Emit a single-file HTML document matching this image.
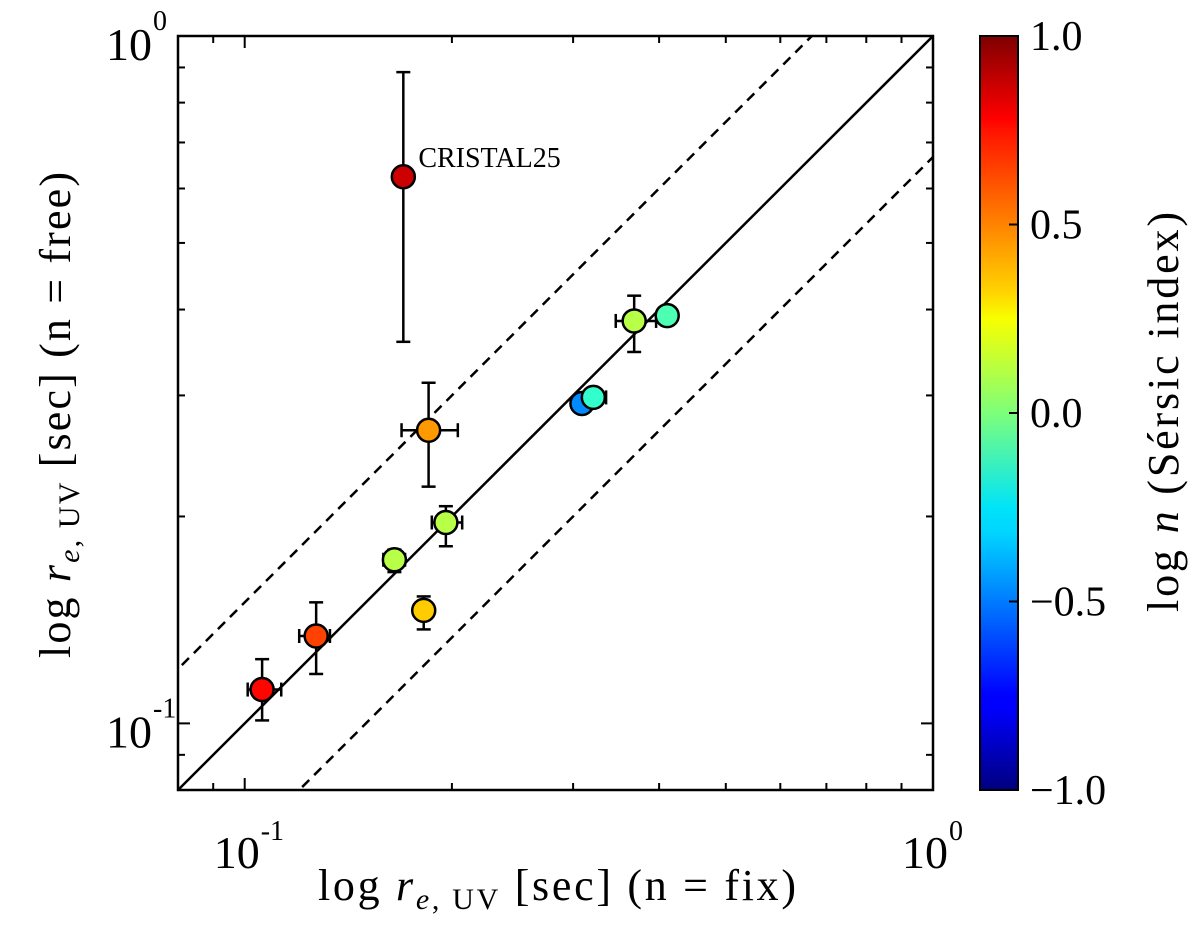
<!DOCTYPE html>
<html><head><meta charset="utf-8"><style>
html,body{margin:0;padding:0;background:#fff;width:1200px;height:936px;overflow:hidden}
svg{display:block}
svg text{font-family:"Liberation Serif",serif;fill:#000}
</style></head><body>
<svg id="chart" width="1200" height="936" viewBox="0 0 1200 936" xmlns="http://www.w3.org/2000/svg">
<defs>
<linearGradient id="jet" x1="0" y1="1" x2="0" y2="0">
<stop offset="0" stop-color="#00007f"/><stop offset="0.11" stop-color="#0000ff"/><stop offset="0.125" stop-color="#0000ff"/>
<stop offset="0.34" stop-color="#00d4ff"/><stop offset="0.375" stop-color="#00e4f8"/><stop offset="0.5" stop-color="#7dff7a"/>
<stop offset="0.625" stop-color="#f8ff00"/><stop offset="0.66" stop-color="#ffd400"/><stop offset="0.875" stop-color="#ff1300"/>
<stop offset="0.89" stop-color="#ff0000"/><stop offset="1" stop-color="#7f0000"/>
</linearGradient>
<clipPath id="plotclip"><rect x="178" y="36" width="755" height="754"/></clipPath>
</defs>
<g id="plot"></g>
</svg>
<script>
const xFix = [0.106, 0.127, 0.165, 0.182, 0.196, 0.185, 0.170, 0.309, 0.321, 0.368, 0.411];
const yFree = [0.112, 0.134, 0.173, 0.146, 0.196, 0.267, 0.624, 0.292, 0.298, 0.385, 0.392];
const logN = [0.74, 0.62, 0.11, 0.35, 0.11, 0.45, 0.85, -0.48, -0.15, 0.11, -0.1];
const xLo = [0.101, 0.120, 0.159, null, 0.187, 0.169, null, null, 0.312, 0.346, null];
const xHi = [0.113, 0.133, 0.171, null, 0.207, 0.204, null, null, 0.335, 0.396, null];
const yLo = [0.101, 0.118, 0.166, 0.137, 0.181, 0.221, 0.359, null, null, 0.347, null];
const yHi = [0.124, 0.150, 0.179, 0.153, 0.207, 0.313, 0.886, null, null, 0.419, null];
const labelNames = ["", "", "", "", "", "", "CRISTAL25", "", "", "", ""];
const xTickVals = [0.1, 1];
const xTickLabels = ["10", "10"];
const xTickExps = ["-1", "0"];
const cbTicks = [-1.0, -0.5, 0.0, 0.5, 1.0];
const cbLabels = ["\u22121.0", "\u22120.5", "0.0", "0.5", "1.0"];
const ratioLines = [1, 1.5, 1/1.5];

const NS = "http://www.w3.org/2000/svg";
const L = 178, R = 933, T = 36, B = 790, LMIN = Math.log10(0.08), LMAX = 0;
function sx(v){return L + (Math.log10(v) - LMIN) / (LMAX - LMIN) * (R - L);}
function sy(v){return B - (Math.log10(v) - LMIN) / (LMAX - LMIN) * (B - T);}
const CT = 36, CB = 790, CL = 980, CR = 1018;
function cy(v){return CB - (v + 1) / 2 * (CB - CT);}
function jet(v){
  const t = (v + 1) / 2;
  const c = x => Math.max(0, Math.min(1, x));
  const r = c(1.5 - Math.abs(4*t - 3)), g = c(1.5 - Math.abs(4*t - 2)), b = c(1.5 - Math.abs(4*t - 1));
  return `rgb(${Math.round(r*255)},${Math.round(g*255)},${Math.round(b*255)})`;
}
const root = document.getElementById('plot');
function mk(tag, attrs, parent){
  const e = document.createElementNS(NS, tag);
  for (const k in attrs) e.setAttribute(k, attrs[k]);
  (parent || root).appendChild(e);
  return e;
}
const clipG = mk('g', {'clip-path': 'url(#plotclip)'});


ratioLines.forEach((f) => {
  const ln = mk('line', {x1: sx(0.05), y1: sy(0.05*f), x2: sx(1.2), y2: sy(1.2*f), stroke: '#000', 'stroke-width': 2.5, 'stroke-dasharray': f === 1 ? '' : '10,7'}, clipG);
  
  
});
for (let i = 0; i < xFix.length; i++){
  const g = mk('g', {});
  
  
  const px = sx(xFix[i]), py = sy(yFree[i]);
  if (yLo[i] !== null){
    mk('line', {x1: px, x2: px, y1: sy(yLo[i]), y2: sy(yHi[i]), stroke: '#000', 'stroke-width': 2.5}, g);
    mk('line', {x1: px-7, x2: px+7, y1: sy(yLo[i]), y2: sy(yLo[i]), stroke: '#000', 'stroke-width': 2.5}, g);
    mk('line', {x1: px-7, x2: px+7, y1: sy(yHi[i]), y2: sy(yHi[i]), stroke: '#000', 'stroke-width': 2.5}, g);
  }
  if (xLo[i] !== null){
    mk('line', {x1: sx(xLo[i]), x2: sx(xHi[i]), y1: py, y2: py, stroke: '#000', 'stroke-width': 2.5}, g);
    mk('line', {x1: sx(xLo[i]), x2: sx(xLo[i]), y1: py-7, y2: py+7, stroke: '#000', 'stroke-width': 2.5}, g);
    mk('line', {x1: sx(xHi[i]), x2: sx(xHi[i]), y1: py-7, y2: py+7, stroke: '#000', 'stroke-width': 2.5}, g);
  }
  mk('circle', {cx: px, cy: py, r: 11.5, fill: jet(logN[i]), stroke: '#000', 'stroke-width': 2.5}, g);
  if (labelNames[i]){
    const t = mk('text', {x: px + 15, y: py - 10, 'font-size': 28}, g);
    t.textContent = labelNames[i];
    
    
  }
}
const fr = mk('rect', {x: L, y: T, width: R-L, height: B-T, fill: 'none', stroke: '#000', 'stroke-width': 2.5});


const tg = mk('g', {stroke: '#000', 'stroke-width': 2});


const minorVals = [0.08, 0.09, 0.1, 0.2, 0.3, 0.4, 0.5, 0.6, 0.7, 0.8, 0.9, 1];
minorVals.forEach(v => {
  const major = (v === 0.1 || v === 1);
  const len = major ? 12 : 7;
  mk('line', {x1: sx(v), x2: sx(v), y1: B, y2: B - len}, tg);
  mk('line', {x1: sx(v), x2: sx(v), y1: T, y2: T + len}, tg);
  mk('line', {x1: L, x2: L + len, y1: sy(v), y2: sy(v)}, tg);
  mk('line', {x1: R, x2: R - len, y1: sy(v), y2: sy(v)}, tg);
});
xTickVals.forEach((v, i) => {
  const t = mk('text', {x: sx(v) - 8, y: 868, 'font-size': 46, 'text-anchor': 'middle'});
  
  
  t.textContent = xTickLabels[i];
  const e = mk('text', {x: sx(v) + 16, y: 840, 'font-size': 28});
  e.textContent = xTickExps[i];
  const t2 = mk('text', {x: 152, y: sy(v) + 24, 'font-size': 46, 'text-anchor': 'end'});
  
  
  t2.textContent = xTickLabels[i];
  const e2 = mk('text', {x: 153, y: sy(v) - 6, 'font-size': 28});
  e2.textContent = xTickExps[i];
});
const xt = mk('text', {x: 318, y: 900, 'font-size': 44, textLength: 478, lengthAdjust: 'spacing'});


xt.innerHTML = 'log <tspan font-style="italic">r</tspan><tspan font-size="30" dy="9"><tspan font-style="italic">e</tspan>, UV</tspan><tspan dy="-9">  [sec]  (n = fix)</tspan>';
const yt = mk('text', {x: 0, y: 0, 'font-size': 44, textLength: 486, lengthAdjust: 'spacing', transform: 'translate(70,658) rotate(-90)'});


yt.innerHTML = 'log <tspan font-style="italic">r</tspan><tspan font-size="30" dy="9"><tspan font-style="italic">e</tspan>, UV</tspan><tspan dy="-9">  [sec]  (n = free)</tspan>';
const cbar = mk('rect', {x: CL, y: CT, width: CR-CL, height: CB-CT, fill: 'url(#jet)', stroke: '#000', 'stroke-width': 2});


cbTicks.forEach((v, i) => {
  if (i > 0 && i < cbTicks.length - 1) mk('line', {x1: CR-9, x2: CR, y1: cy(v), y2: cy(v), stroke: '#000', 'stroke-width': 2});
  const t = mk('text', {x: 1030, y: cy(v) + 14, 'font-size': 42});
  
  
  t.textContent = cbLabels[i];
});
const ct = mk('text', {x: 0, y: 0, 'font-size': 44, textLength: 400, lengthAdjust: 'spacing', transform: 'translate(1178,612) rotate(-90)'});


ct.innerHTML = 'log <tspan font-style="italic">n</tspan>  (Sérsic index)';
</script>
</body></html>
